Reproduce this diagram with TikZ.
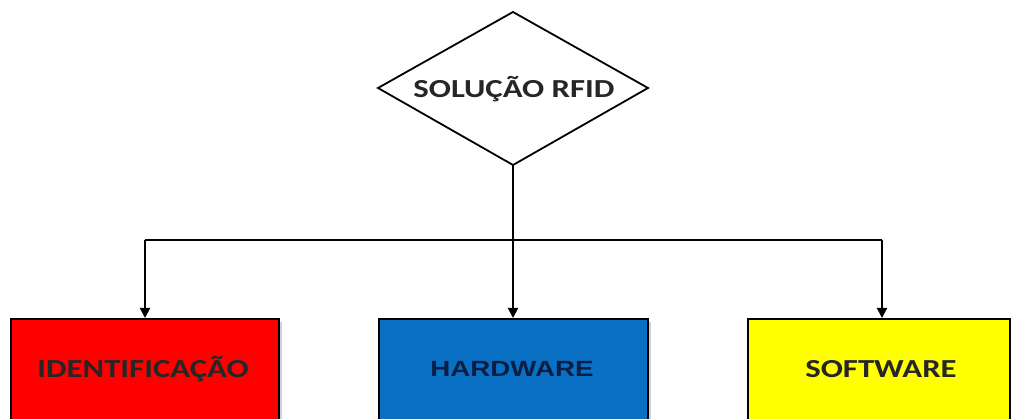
\documentclass[tikz,border=0pt]{standalone}
\usepackage{fontspec}
\setmainfont{Carlito}
\newfontfamily\arialb{Liberation Sans}
\usetikzlibrary{shapes.geometric,arrows.meta,shadows}
\definecolor{rfred}{HTML}{FF0000}
\definecolor{rfblue}{HTML}{0A70C4}
\definecolor{rfyellow}{HTML}{FFFF00}
\definecolor{navytxt}{HTML}{0B1F45}
\begin{document}
\begin{tikzpicture}[x=1pt,y=-1pt,
  boxst/.style={draw=black, line width=1.8pt, rectangle, anchor=north west,
    drop shadow={shadow xshift=3pt, shadow yshift=-3pt, opacity=0.35, fill=gray}},
  lbl/.style={font=\bfseries\fontsize{26}{28}\selectfont, text=black!85, xscale=1.26},
  conn/.style={line width=2pt, -{Triangle[length=10pt,width=10pt]}}
]
\useasboundingbox (0,0) rectangle (1011,419);
\clip (0,0) rectangle (1011,419);
\fill[white] (0,0) rectangle (1011,419);
% diamond
\coordinate (dt) at (513,12);
\coordinate (dl) at (378,88);
\coordinate (dr) at (648,88);
\coordinate (db) at (513,165);
\draw[line width=1.8pt, fill=white] (dt) -- (dr) -- (db) -- (dl) -- cycle;
\node[lbl] (sol) at (514,89) {SOLUÇÃO RFID};
% boxes
\node[boxst, fill=rfred, minimum width=268pt, minimum height=130pt] (idb) at (10,318) {};
\node[boxst, fill=rfblue, minimum width=269pt, minimum height=130pt] (hwb) at (378,318) {};
\node[boxst, fill=rfyellow, minimum width=262pt, minimum height=130pt] (swb) at (747,318) {};
\node[lbl] (idt) at (143,369) {IDENTIFICAÇÃO};
\node[lbl, font=\arialb\bfseries\fontsize{22}{26}\selectfont, text=navytxt] (hwt) at (512,369) {HARDWARE};
\node[lbl] (swt) at (881,369) {SOFTWARE};
% connectors
\coordinate (j) at (513,240);
\coordinate (jl) at (145,240);
\coordinate (jr) at (882,240);
\draw[line width=2pt] (db) -- (j);
\draw[line width=2pt] (jl) -- (jr);
\draw[conn] (jl) -- (jl |- idb.north);
\draw[conn] (j) -- (j |- hwb.north);
\draw[conn] (jr) -- (jr |- swb.north);
\end{tikzpicture}
\end{document}
